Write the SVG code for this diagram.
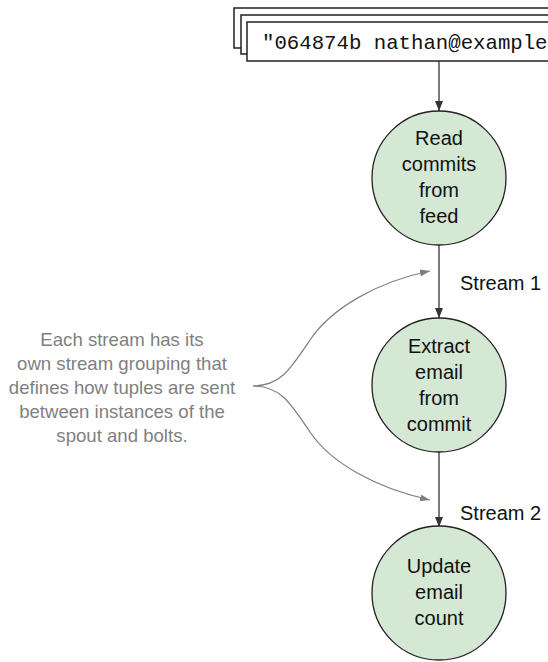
<svg xmlns="http://www.w3.org/2000/svg" width="548" height="662" viewBox="0 0 548 662">
<style>
.node circle{fill:#d5e8d4;stroke:#222;stroke-width:1.3}
.lbl{font-family:"Liberation Sans",Arial,sans-serif;font-size:20px;fill:#111;text-anchor:middle}
.slbl{font-family:"Liberation Sans",Arial,sans-serif;font-size:20px;fill:#111}
.note{font-family:"Liberation Sans",Arial,sans-serif;font-size:18.6px;fill:#7f7f7f;text-anchor:middle}
.rec{fill:#fff;stroke:#222;stroke-width:1.5}
.mono{font-family:"Liberation Mono","Courier New",monospace;font-size:20.7px;fill:#111}
.edge{fill:none;stroke:#333;stroke-width:1.3}
.curve{fill:none;stroke:#7f7f7f;stroke-width:1.2}
</style>
<defs>
<marker id="ah" markerUnits="userSpaceOnUse" markerWidth="12" markerHeight="10" refX="10" refY="4" orient="auto">
<path d="M0,0 L10,4 L0,8 Z" fill="#333"/>
</marker>
<marker id="ahg" markerUnits="userSpaceOnUse" markerWidth="12" markerHeight="10" refX="10" refY="3.5" orient="auto">
<path d="M0,0 L10,3.5 L0,7 Z" fill="#7f7f7f"/>
</marker>
</defs>
<g id="feed">
<rect class="rec" x="234" y="8" width="330" height="40"/>
<rect class="rec" x="241" y="15" width="330" height="39"/>
<rect class="rec" x="247" y="22" width="330" height="39"/>
<text class="mono" x="262" y="49">"064874b nathan@example</text>
</g>
<g id="connectors">
<line class="edge" x1="439" y1="61" x2="439" y2="111" marker-end="url(#ah)"/>
<line class="edge" x1="439" y1="245" x2="439" y2="318" marker-end="url(#ah)"/>
<line class="edge" x1="439" y1="452" x2="439" y2="527" marker-end="url(#ah)"/>
<path class="curve" d="M253,386 C280,386 290,370 310,340 C330,310 375,282 430,271" marker-end="url(#ahg)"/>
<path class="curve" d="M253,386 C280,386 290,402 310,432 C330,462 375,488 430,500" marker-end="url(#ahg)"/>
</g>
<g id="read" class="node">
<circle cx="439" cy="178" r="67"/>
<text class="lbl" x="439" y="145">Read</text>
<text class="lbl" x="439" y="171">commits</text>
<text class="lbl" x="439" y="197">from</text>
<text class="lbl" x="439" y="223">feed</text>
</g>
<g id="extract" class="node">
<circle cx="439" cy="385" r="67"/>
<text class="lbl" x="439" y="353">Extract</text>
<text class="lbl" x="439" y="379">email</text>
<text class="lbl" x="439" y="405">from</text>
<text class="lbl" x="439" y="431">commit</text>
</g>
<g id="update" class="node">
<circle cx="439" cy="593" r="67"/>
<text class="lbl" x="439" y="573">Update</text>
<text class="lbl" x="439" y="599">email</text>
<text class="lbl" x="439" y="625">count</text>
</g>
<g id="stream-labels">
<text class="slbl" x="460" y="290">Stream 1</text>
<text class="slbl" x="460" y="520">Stream 2</text>
</g>
<g id="note">
<text class="note" x="122" y="346">Each stream has its</text>
<text class="note" x="122" y="370">own stream grouping that</text>
<text class="note" x="122" y="394">defines how tuples are sent</text>
<text class="note" x="122" y="418">between instances of the</text>
<text class="note" x="122" y="442">spout and bolts.</text>
</g>
</svg>
